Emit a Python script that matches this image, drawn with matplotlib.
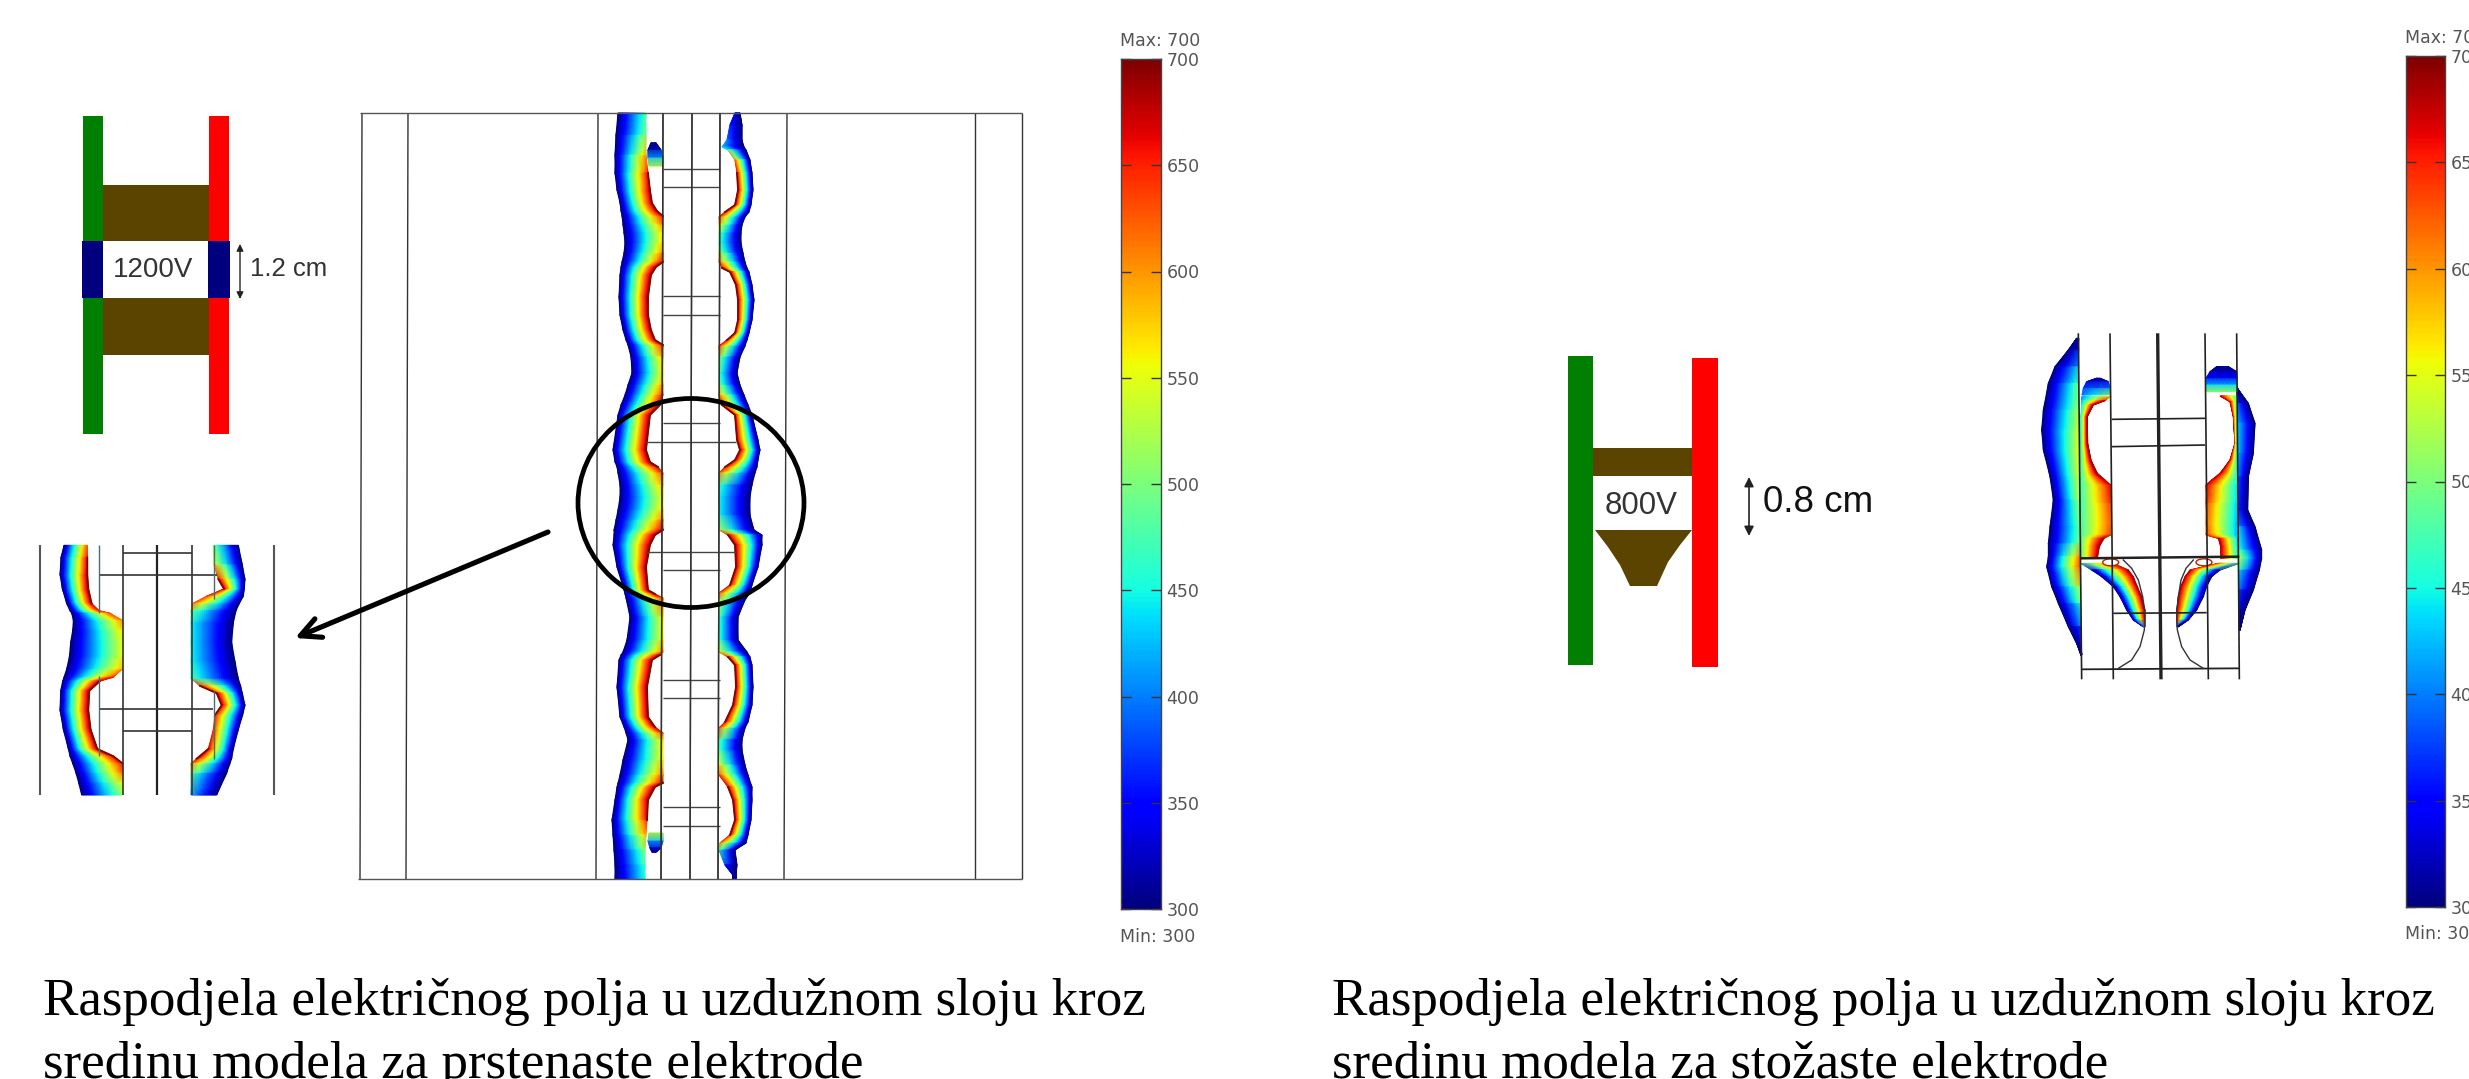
import matplotlib
matplotlib.use("Agg")
import matplotlib.pyplot as plt
from matplotlib.patches import Rectangle, Polygon, Ellipse
import numpy as np

W, H = 2469, 1079
cbar_ticks = [300, 350, 400, 450, 500, 550, 600, 650, 700]
caption_left = ["Raspodjela električnog polja u uzdužnom sloju kroz", "sredinu modela za prstenaste elektrode"]
caption_right = ["Raspodjela električnog polja u uzdužnom sloju kroz", "sredinu modela za stožaste elektrode"]

# main model, left side: y, x outer edge, x inner edge, field at the inner edge
main_left = [(113,618,646,470),(135,616,646,500),(155,615,646,590),(173,615,648,660),(190,617,650,680),
    (203,620,652,680),(211,621,657,680),(216,622,663,670),(225,623,663,610),(233,624,663,570),(243,625,663,575),
    (253,624,663,610),(262,622,663,670),(267,621,656,690),(275,620,651,690),(297,619,648,690),(315,620,648,690),
    (330,623,651,690),(340,626,655,680),(345,628,663,670),(357,631,663,590),(373,632,663,555),(385,628,663,600),
    (395,625,663,650),(405,621,660,680),(415,618,650,690),(450,613,646,690),(462,615,650,690),(467,617,658,680),
    (473,618,663,640),(485,620,663,590),(497,620,663,555),(510,618,663,570),(520,616,663,620),(530,614,663,680),
    (535,614,655,690),(545,613,650,690),(567,617,646,690),(590,624,648,690),(594,625,655,680),(598,626,663,650),
    (617,630,663,560),(640,627,663,555),(652,623,663,620),(655,621,660,680),(660,619,652,690),(687,617,647,690),
    (717,620,648,690),(727,624,655,680),(733,626,663,650),(740,628,663,570),(760,623,663,560),(775,620,663,620),
    (783,618,663,680),(787,617,655,690),(800,615,648,690),(820,612,647,660),(835,613,646,590),(850,614,645,500),
    (865,615,645,470),(879,615,645,450)]
# main model, right side: y, x inner edge, x outer edge, field at the inner edge
main_right = [(113,735,740,340),(125,730,742,360),(140,727,742,400),(147,722,744,430),(150,728,746,480),
    (160,735,750,620),(173,737,752,680),(190,738,753,690),(205,735,751,690),(212,725,749,680),(217,719,745,650),
    (225,719,742,570),(233,719,741,490),(243,719,741,470),(253,719,743,520),(262,719,745,620),(268,722,747,680),
    (272,730,749,690),(285,736,752,690),(300,738,754,690),(320,738,752,690),(333,735,749,680),(340,727,747,680),
    (346,719,745,650),(357,719,740,520),(373,719,737,470),(385,719,740,500),(395,719,744,600),(405,722,748,680),
    (415,735,752,680),(440,737,758,680),(450,740,760,690),(460,735,758,690),(467,725,757,680),(473,719,755,620),
    (485,719,752,470),(497,719,750,450),(515,719,750,450),(530,719,754,540),(535,728,762,680),(545,735,762,690),
    (567,736,758,690),(585,730,752,680),(593,719,750,640),(600,719,745,540),(617,719,738,470),(640,719,738,470),
    (652,719,747,560),(657,728,750,680),(665,735,752,690),(687,736,753,690),(705,733,752,690),(722,725,748,680),
    (728,719,745,640),(740,719,742,480),(750,719,742,470),(765,719,745,560),(775,719,748,640),(787,728,752,680),
    (800,733,752,690),(820,735,751,690),(835,730,748,680),(843,720,746,620),(850,719,735,480),(865,725,737,360),
    (875,733,736,320),(879,733,736,300)]
# small blue caps above and below the first and last hole: y, xa, xb, va, vb
main_cap_top = [(143,651,656,300,300),(150,648,661,320,320),(158,648,663,420,420),(166,649,663,540,540)]
main_cap_bot = [(833,649,663,540,540),(841,648,663,420,420),(848,650,661,330,330),(852,652,656,300,300)]

main_vlines = [[362,360],[408,406],[598,596],[663,661],[692,690],[720,718],[787,784],[975,975],[1022,1022]]
main_rungs = [(169,663,720),(187,663,720),(296,663,720),(315,663,720),(423,663,720),(442,645,736),
              (552,645,736),(570,663,720),(680,663,720),(698,663,720),(807,663,720),(826,663,720)]

# zoomed inset, coordinates in crop units
inset_left = [(960,192,262,620),(985,183,262,660),(1020,180,262,680),(1050,187,265,690),(1080,200,275,680),
    (1095,210,298,650),(1100,215,330,640),(1115,220,368,610),(1135,218,368,570),(1160,212,368,550),(1190,208,368,550),
    (1215,200,368,590),(1232,192,340,650),(1240,188,300,680),(1260,182,268,690),(1300,180,265,690),(1340,190,272,690),
    (1380,205,292,680),(1395,210,340,670),(1410,218,368,660),(1430,228,368,620),(1450,236,368,560),(1475,245,368,500)]
inset_right = [(960,640,715,480),(1000,642,727,560),(1030,655,735,680),(1050,672,733,690),(1065,620,730,650),
    (1080,578,718,620),(1095,573,708,500),(1120,573,700,450),(1160,573,695,450),(1200,573,705,450),(1235,573,715,480),
    (1250,600,722,660),(1265,650,727,690),(1290,665,735,690),(1310,645,728,660),(1340,640,715,640),(1380,625,700,680),
    (1400,590,695,680),(1410,573,690,620),(1430,573,680,500),(1475,573,650,400)]

# cone model, coordinates in crop units
cone_outer_left = [(85,290,296,300),(120,265,296,340),(170,225,296,420),(220,205,296,480),(300,190,297,520),
    (360,185,297,540),(420,190,297,550),(500,210,298,540),(570,220,299,520),(650,210,300,480),(700,205,300,500),
    (740,205,301,620),(770,200,301,640),(830,215,302,540),(880,235,303,480),(950,265,303,380),(1000,290,304,320),
    (1035,303,305,300)]
cone_outer_right = [(235,771,772,300),(280,772,805,380),(340,772,825,440),(430,773,820,430),(500,774,805,400),
    (600,775,803,350),(650,776,825,420),(720,777,845,470),(745,777,845,550),(780,778,838,450),(840,778,820,380),
    (900,778,795,330),(960,778,780,300)]
cone_cap_left = [(205,350,360,300,300),(215,320,385,330,330),(235,310,390,380,400),(255,306,390,400,520)]
cone_in_left = [(260,305,390,400,560),(272,305,375,420,680),(285,305,340,440,690),(320,303,322,440,690),(400,303,323,450,690),
    (450,303,333,460,690),(490,303,352,470,690),(510,302,375,470,680),(525,302,392,470,670),(580,302,392,470,640),
    (640,302,392,470,620),(675,302,392,470,640),(685,302,372,480,690),(710,302,358,480,690),(745,302,352,480,680)]
cone_low_left = [(760,302,400,480,640),(780,335,445,300,690),(800,365,460,300,690),(830,400,472,300,690),
    (860,420,485,300,690),(900,440,495,300,690),(930,460,495,300,680),(950,490,495,300,400)]
cone_cap_right = [(170,710,745,300,300),(185,690,770,320,320),(205,678,771,350,350),(225,678,771,430,430),(245,678,771,520,520)]
cone_in_right = [(258,720,771,690,480),(275,750,771,690,480),(320,760,771,690,480),(400,765,771,690,480),(450,750,771,690,470),
    (490,720,771,690,460),(510,695,771,680,450),(525,678,771,680,440),(580,678,772,640,430),(640,678,772,620,420),
    (675,678,772,640,420),(685,715,773,690,430),(710,722,773,690,440),(745,722,775,680,460)]
cone_low_right = [(760,715,778,640,480),(780,630,720,690,300),(800,615,695,690,300),(830,602,680,690,300),
    (860,595,670,690,300),(900,590,650,690,300),(930,590,625,680,300),(950,590,595,400,300)]
cone_arc_left_x = [430,455,475,488,495,493,480,455,415]
cone_arc_right_x = [640,618,603,595,590,592,605,630,670]
cone_arc_y = [750,775,810,860,910,960,1010,1050,1075]

fig = plt.figure(figsize=(W / 100, H / 100), dpi=100, facecolor='white')
ax = fig.add_axes([0, 0, 1, 1])
ax.set_xlim(0, W)
ax.set_ylim(H, 0)
ax.axis('off')


def z1(x, y):
    '''inset crop units to figure pixels'''
    return np.asarray(x, float) / 3, 80 + np.asarray(y, float) / 2.063


def z5(x, y):
    '''cone model crop units to figure pixels'''
    return 1980 + np.asarray(x, float) / 3, 310 + np.asarray(y, float) / 3


def band(y, xa, xb, va, vb, n=24):
    t = np.linspace(0, 1, n)
    y, xa, xb, va, vb = [np.asarray(a, float) for a in (y, xa, xb, va, vb)]
    X = xa[:, None] + (xb - xa)[:, None] * t
    Y = np.repeat(y[:, None], n, axis=1)
    C = va[:, None] + (vb - va)[:, None] * t
    ax.pcolormesh(X, Y, C, shading='gouraud', cmap='jet', vmin=300, vmax=700, zorder=2)


def hot_edge(x, y, v):
    '''dark red line where the field runs off the scale'''
    x = np.array(x, float)
    x[np.asarray(v) < 660] = np.nan
    ax.plot(x, y, color='#7a0a00', lw=1.3, zorder=3)


def field_left(rows, tr=None):
    y, xo, xi, v = np.array(rows, float).T
    if tr:
        xo, yy = tr(xo, y)
        xi, y = tr(xi, y)
    band(y, xo, xi, np.full(len(y), 300), v)
    hot_edge(xi, y, v)


def field_right(rows, tr=None):
    y, xi, xo, v = np.array(rows, float).T
    if tr:
        xo, yy = tr(xo, y)
        xi, y = tr(xi, y)
    band(y, xi, xo, v, np.full(len(y), 300))
    hot_edge(xi, y, v)


def field_free(rows, tr=None):
    y, xa, xb, va, vb = np.array(rows, float).T
    if tr:
        xa, yy = tr(xa, y)
        xb, y = tr(xb, y)
    band(y, xa, xb, va, vb)


def vline(xs, ys, color='#222222', lw=1.0):
    ax.plot(xs, ys, color=color, lw=lw, zorder=4, solid_capstyle='butt')


# main model
for xs in main_vlines:
    vline(xs, [113, 879], color='#333333')
vline([360, 1022], [113, 113], color='#555555')
vline([358, 1022], [879, 879], color='#555555')
field_left(main_left)
field_right(main_right)
field_free(main_cap_top)
field_free(main_cap_bot)
for y, x0, x1 in main_rungs:
    vline([x0, x1], [y, y], color='#444444', lw=1.0)
for xs in main_vlines[3:6]:
    vline(xs, [113, 879], color='#333333')
ax.add_patch(Ellipse((691, 503), 226, 209, fill=False, ec='black', lw=3.4, zorder=6))
ax.annotate('', xy=(295, 638), xytext=(548, 532), zorder=7,
            arrowprops=dict(arrowstyle='->', lw=3.7, color='black', mutation_scale=36, shrinkA=0, shrinkB=0))

# inset of the circled part
field_left(inset_left, z1)
field_right(inset_right, z1)
for zx, c, lw in [(120, '#555555', 1.5), (368, '#333333', 1.2), (472, '#222222', 1.6), (575, '#333333', 1.2), (822, '#555555', 1.5)]:
    xs, ys = z1([zx, zx], [960, 1475])
    vline(xs, ys, color=c, lw=lw)
for zy, a, b in [(975, 368, 575), (1022, 300, 650), (1298, 300, 640), (1343, 368, 575)]:
    xs, ys = z1([a, b], [zy, zy])
    vline(xs, ys, color='#333333', lw=1.2)
for zx, a, b in [(298, 960, 1100), (298, 1230, 1395), (642, 960, 1070), (642, 1260, 1400)]:
    xs, ys = z1([zx, zx], [a, b])
    vline(xs, ys, color='#4a6a7a', lw=1.0)

# ring electrode sketch
ax.add_patch(Rectangle((83, 116), 20, 318, fc='#007f00', ec='none', zorder=2))
ax.add_patch(Rectangle((209, 116), 20, 318, fc='#ff0000', ec='none', zorder=2))
ax.add_patch(Rectangle((82, 241), 21, 57, fc='#00007f', ec='none', zorder=3))
ax.add_patch(Rectangle((208, 241), 22, 57, fc='#00007f', ec='none', zorder=3))
ax.add_patch(Rectangle((103, 185), 106, 56, fc='#5a4400', ec='none', zorder=2))
ax.add_patch(Rectangle((103, 298), 106, 57, fc='#5a4400', ec='none', zorder=2))
ax.text(153, 270, '1200V', fontsize=20, family='Liberation Sans', color='#333333', ha='center', va='center')
ax.text(250, 269, '1.2 cm', fontsize=18.5, family='Liberation Sans', color='#333333', ha='left', va='center')
ax.annotate('', xy=(240, 299), xytext=(240, 244), arrowprops=dict(arrowstyle='<|-|>', lw=1, color='#222222', mutation_scale=10, shrinkA=0, shrinkB=0))

# cone electrode sketch
ax.add_patch(Rectangle((1568, 356), 25, 309, fc='#007f00', ec='none', zorder=2))
ax.add_patch(Rectangle((1692, 358), 26, 309, fc='#ff0000', ec='none', zorder=2))
ax.add_patch(Rectangle((1593, 448), 99, 28, fc='#5a4400', ec='none', zorder=2))
ax.add_patch(Polygon([(1595, 530), (1692, 530), (1680, 545), (1668, 562), (1657, 586), (1630, 586), (1620, 565), (1608, 547)],
                     fc='#5a4400', ec='none', zorder=2))
ax.text(1641, 506, '800V', fontsize=22.5, family='Liberation Sans', color='#333333', ha='center', va='center')
ax.text(1763, 502, '0.8 cm', fontsize=26.5, family='Liberation Sans', color='#111111', ha='left', va='center')
ax.annotate('', xy=(1749, 536), xytext=(1749, 477), arrowprops=dict(arrowstyle='<|-|>', lw=1.2, color='#222222', mutation_scale=14, shrinkA=0, shrinkB=0))

# cone model
field_left(cone_outer_left, z5)
field_right(cone_outer_right, z5)
for rows in [cone_cap_left, cone_in_left, cone_low_left, cone_cap_right, cone_in_right, cone_low_right]:
    field_free(rows, z5)
ex, ey = z5([392], [757])
ax.add_patch(Ellipse((ex[0], ey[0]), 16, 7, fc='white', ec='#c02000', lw=1, zorder=3))
ex, ey = z5([672], [757])
ax.add_patch(Ellipse((ex[0], ey[0]), 16, 7, fc='white', ec='#c02000', lw=1, zorder=3))
for a, b, lw in [(295, 305, 1.2), (390, 400, 1.2), (533, 543, 2.4), (675, 685, 1.2), (770, 778, 1.2)]:
    xs, ys = z5([a, b], [70, 1108])
    vline(xs, ys, lw=lw)
for a, b, ya, yb, lw in [(395, 675, 328, 325, 1.2), (395, 675, 410, 405, 1.2), (300, 778, 745, 740, 1.8), (400, 680, 910, 908, 1.2), (305, 778, 1078, 1075, 1.3)]:
    xs, ys = z5([a, b], [ya, yb])
    vline(xs, ys, lw=lw)
xs, ys = z5(cone_arc_left_x, cone_arc_y)
ax.plot(xs, ys, color='#333333', lw=1, zorder=4)
xs, ys = z5(cone_arc_right_x, cone_arc_y)
ax.plot(xs, ys, color='#333333', lw=1, zorder=4)


def colorbar(x0, x1, y_top, y_bot):
    cax = fig.add_axes([x0 / W, 1 - y_bot / H, (x1 - x0) / W, (y_bot - y_top) / H])
    grad = np.linspace(300, 700, 400)[:, None]
    cax.imshow(grad, cmap='jet', aspect='auto', origin='lower', extent=[0, 1, 300, 700], vmin=300, vmax=700)
    cax.set_xticks([])
    cax.set_yticks(cbar_ticks)
    cax.yaxis.tick_right()
    cax.tick_params(axis='y', direction='in', left=True, right=True, length=7, width=1, color='#333333',
                    labelsize=12.5, labelcolor='#555555', pad=4)
    for s in cax.spines.values():
        s.set_color('#444444')
        s.set_linewidth(1)
    return cax


colorbar(1121, 1161, 59, 909)
colorbar(2406, 2445, 56, 907)
ax.text(1120, 41, 'Max: 700', fontsize=12.5, color='#555555', va='center', clip_on=False)
ax.text(1120, 937, 'Min: 300', fontsize=12.5, color='#555555', va='center')
ax.text(2405, 38, 'Max: 700', fontsize=12.5, color='#555555', va='center', clip_on=False)
ax.text(2405, 934, 'Min: 300', fontsize=12.5, color='#555555', va='center')

# captions
for x, lines in [(43, caption_left), (1332, caption_right)]:
    ax.text(x, 1015, lines[0], fontsize=38.2, family='Liberation Serif', color='black', va='baseline')
    ax.text(x, 1078, lines[1], fontsize=38.2, family='Liberation Serif', color='black', va='baseline')

fig.savefig('out.png', dpi=100, facecolor='white')
